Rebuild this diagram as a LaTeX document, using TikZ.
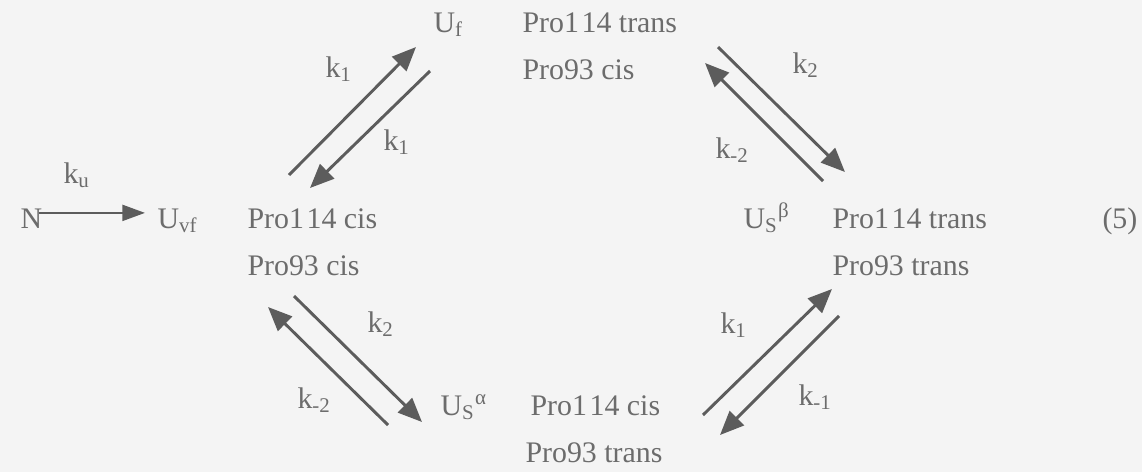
\documentclass[tikz,border=0pt]{standalone}
\usepackage{fontspec}
\setmainfont{Liberation Serif}
\usetikzlibrary{arrows.meta}
\definecolor{InkGray}{RGB}{108,108,108}
\definecolor{ArrowGray}{RGB}{92,92,92}
\definecolor{PaperGray}{RGB}{244,244,244}

\begin{document}
\begin{tikzpicture}[x=0.375pt,y=-0.375pt,
  every node/.style={inner sep=0pt,text=InkGray,font=\fontsize{11.2}{13}\selectfont},
  state/.style={anchor=base west},
  rate/.style={anchor=base west},
  rxn/.style={-{Triangle[length=9pt,width=7.5pt]},line width=1.1pt,draw=ArrowGray},
  conv/.style={-{Triangle[length=8.5pt,width=6pt]},line width=0.8pt,draw=ArrowGray}]
\fill[PaperGray] (0,0) rectangle (1142,472);
\useasboundingbox (0,0) rectangle (1142,472);

\node[state] (N) at (20,228) {N};
\node[state] (Uvf) at (157,228) {U\textsubscript{vf}};
\node[state] (cisA) at (247,228) {Pro1\kern1pt14 cis};
\node[state] (cisB) at (247,275) {Pro93 cis};

\node[state] (Uf) at (433,32) {U\textsubscript{f}};
\node[state] (ufA) at (522,32) {Pro1\kern1pt14 trans};
\node[state] (ufB) at (522,79) {Pro93 cis};

\node[state] (Usb) at (743,228) {U\textsubscript{S}\textsuperscript{β}};
\node[state] (usbA) at (832,228) {Pro1\kern1pt14 trans};
\node[state] (usbB) at (832,275) {Pro93 trans};
\node[state] (eqno) at (1102,228) {(5)};

\node[state] (Usa) at (440,415) {U\textsubscript{S}\textsuperscript{α}};
\node[state] (usaA) at (530,415) {Pro1\kern1pt14 cis};
\node[state] (usaB) at (525,462) {Pro93 trans};

\node[rate] (ku) at (63,183) {k\textsubscript{u}};
\node[rate] (kTLf) at (325,77) {k\textsubscript{1}};
\node[rate] (kTLb) at (383,150) {k\textsubscript{1}};
\node[rate] (kTRf) at (792,73) {k\textsubscript{2}};
\node[rate] (kTRb) at (715,158) {k\textsubscript{-2}};
\node[rate] (kBLf) at (367,332) {k\textsubscript{2}};
\node[rate] (kBLb) at (297,408) {k\textsubscript{-2}};
\node[rate] (kBRf) at (720,333) {k\textsubscript{1}};
\node[rate] (kBRb) at (798,405) {k\textsubscript{-1}};

\coordinate (tlUpS) at (289,175);
\coordinate (tlUpE) at (416,47);
\coordinate (tlDnS) at (430,71);
\coordinate (tlDnE) at (310,188);
\coordinate (trDnS) at (718,47);
\coordinate (trDnE) at (845,172);
\coordinate (trUpS) at (823,181);
\coordinate (trUpE) at (705,63);
\coordinate (blDnS) at (294,296);
\coordinate (blDnE) at (422,422);
\coordinate (blUpS) at (388,425);
\coordinate (blUpE) at (268,307);
\coordinate (brUpS) at (703,415);
\coordinate (brUpE) at (832,289);
\coordinate (brDnS) at (839,316);
\coordinate (brDnE) at (720,435);

\draw[conv] ([xshift=-1.5pt,yshift=2pt]N.east) -- ([xshift=-4.5pt,yshift=2pt]N.east -| Uvf.west);
\draw[rxn] (tlUpS) -- (tlUpE);
\draw[rxn] (tlDnS) -- (tlDnE);
\draw[rxn] (trDnS) -- (trDnE);
\draw[rxn] (trUpS) -- (trUpE);
\draw[rxn] (blDnS) -- (blDnE);
\draw[rxn] (blUpS) -- (blUpE);
\draw[rxn] (brUpS) -- (brUpE);
\draw[rxn] (brDnS) -- (brDnE);

\end{tikzpicture}
\end{document}
